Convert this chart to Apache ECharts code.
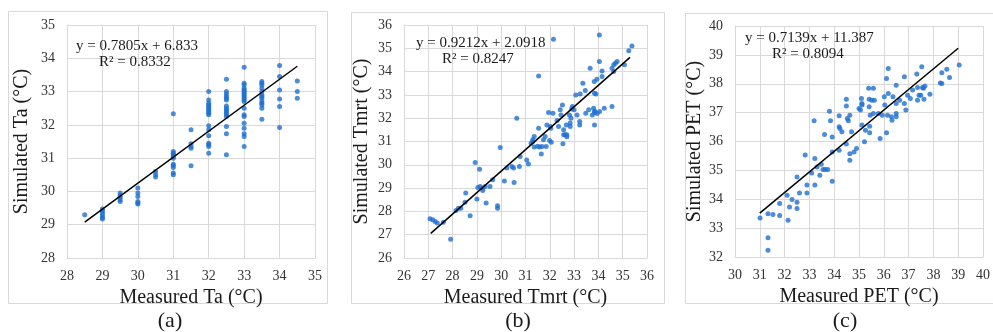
<!DOCTYPE html>
<html><head><meta charset="utf-8">
<script src="https://cdn.jsdelivr.net/npm/echarts@6/dist/echarts.min.js"></script>
<style>html,body{margin:0;padding:0;background:#fff;}#c{width:993px;height:332px;}</style>
</head><body><div id="c"></div>
<script>
// Panel (a): measured vs simulated Ta
const aX = [28.5,
 29,29,29,29,29,29,
 29.5,29.5,29.5,29.5,29.5,
 30,30,30,30,30,30,
 30.5,30.5,30.5,
 31,31,31,31,31,31,31,31,31,31,31,
 31.5,31.5,31.5,31.5,31.5,
 32,32,32,32,32,32,32,32,32,32,32,32,32,32,32,32,32,
 32.5,32.5,32.5,32.5,32.5,32.5,32.5,32.5,32.5,32.5,32.5,32.5,32.5,32.5,32.5,32.5,
 33,33,33,33,33,33,33,33,33,33,33,33,33,33,33,33,33,33,33,33,
 33.5,33.5,33.5,33.5,33.5,33.5,33.5,33.5,33.5,33.5,33.5,33.5,33.5,
 34,34,34,34,34,34,
 34.5,34.5,34.5];
const aY = [29.3,
 29.47,29.42,29.35,29.28,29.22,29.17,
 29.95,29.88,29.82,29.75,29.7,
 30.1,29.95,29.85,29.7,29.65,29.62,
 30.6,30.5,30.43,
 32.33,31.2,31.15,31.1,31.05,31.0,30.82,30.78,30.72,30.55,30.5,
 31.85,31.43,31.35,31.3,30.77,
 33.0,32.75,32.65,32.6,32.55,32.5,32.45,32.4,32.35,32.3,31.97,31.85,31.67,31.45,31.4,31.35,31.15,
 33.37,33.0,32.93,32.85,32.8,32.75,32.57,32.5,32.45,32.4,32.35,32.3,32.25,31.95,31.73,31.1,
 33.73,33.25,33.2,33.1,33.05,33.0,32.95,32.9,32.85,32.8,32.75,32.5,32.3,32.25,32.05,31.9,31.73,31.65,31.35,32.7,
 33.3,33.25,33.2,33.1,33.0,32.9,32.85,32.8,32.7,32.65,32.6,32.5,32.17,
 33.78,33.45,33.05,32.78,32.55,31.92,
 33.32,33.0,32.8];
const aFit = {slope: 0.7805, intercept: 6.833, from: 28.5, to: 34.5};

// Panel (b): measured vs simulated Tmrt
const bX = [27.07,27.18,27.28,27.37,27.62,27.92,28.14,28.24,28.34,28.51,28.54,28.72,28.93,29.0,29.11,29.04,29.13,29.24,29.34,29.24,29.38,29.54,29.65,29.85,29.85,29.96,30.13,30.23,30.44,30.51,30.53,30.64,30.75,30.78,31.05,31.12,31.23,31.3,31.36,31.36,31.54,31.54,31.58,31.68,31.65,31.74,31.81,31.85,31.88,31.95,31.99,32.02,32.04,32.06,32.15,32.13,32.36,32.43,32.46,32.52,32.57,32.63,32.57,32.54,32.68,32.7,32.81,32.84,32.84,32.87,32.93,33.0,33.07,33.12,33.23,33.23,33.25,33.36,33.46,33.48,33.6,33.66,33.75,33.8,33.84,33.83,33.84,33.9,33.84,33.94,34.04,34.04,34.05,34.15,34.15,34.24,34.56,34.56,34.63,34.7,34.77,34.63,35.07,35.25,35.38,31.3,31.5,32.7,33.85,33.95,32.3,32.9];
const bY = [27.68,27.64,27.57,27.5,27.53,26.81,28.04,28.14,28.14,28.39,28.79,27.81,30.1,28.53,29.81,29.03,29.07,29.0,29.07,28.9,28.36,29.07,29.36,28.24,28.14,30.74,29.31,29.86,29.93,29.86,29.24,32.0,29.93,30.36,30.21,30.03,30.93,31.07,31.21,30.76,33.81,31.57,30.76,30.79,30.46,31.07,31.21,30.79,31.71,32.24,31.04,31.64,31.57,30.97,35.39,32.21,31.64,32.36,32.14,32.57,31.29,31.29,31.5,30.9,31.71,31.29,32.14,31.64,31.79,32.0,32.5,32.36,33.0,32.14,31.71,31.86,33.04,33.5,33.19,32.21,32.36,34.14,32.14,32.43,32.24,33.57,33.07,33.04,31.71,33.67,35.57,34.43,32.29,34.03,33.79,32.43,32.5,34.14,34.29,34.36,34.43,34.0,34.29,34.9,35.1,31.0,30.8,31.2,32.3,32.2,31.9,32.4];
const bFit = {slope: 0.9212, intercept: 2.0918, from: 27.1, to: 35.3};

// Panel (c): measured vs simulated PET
const cX = [31.01,31.33,31.53,31.33,31.33,31.8,31.8,32.1,32.14,32.2,32.3,32.5,32.5,32.5,32.6,32.83,32.9,32.9,33.09,33.19,33.22,33.22,33.31,33.42,33.48,33.55,33.64,33.74,33.61,33.81,33.85,33.92,33.92,33.92,34.2,34.2,34.23,34.2,34.31,34.49,34.49,34.49,34.53,34.57,34.63,34.63,34.63,34.7,34.8,34.9,35.0,35.06,35.1,35.12,35.12,35.12,35.22,35.26,35.39,35.41,35.41,35.45,35.43,35.43,35.52,35.62,35.58,35.58,35.78,35.85,35.94,36.02,36.04,36.11,36.11,36.18,36.18,36.15,36.31,36.33,36.37,36.5,36.5,36.5,36.5,36.64,36.83,36.83,36.89,36.96,37.07,37.16,37.33,37.36,37.42,37.49,37.56,37.36,37.53,37.6,37.62,37.66,37.86,38.28,38.34,38.34,38.54,38.65,39.04];
const cY = [33.35,33.5,33.47,32.67,32.23,33.44,33.85,34.14,33.27,33.73,33.99,34.77,33.9,33.68,34.22,35.53,34.49,34.22,34.91,36.72,35.41,34.49,35.12,34.83,35.21,35.03,35.03,35.03,36.24,37.05,36.72,34.62,35.64,36.16,36.89,36.51,36.45,35.7,36.34,37.46,37.23,35.91,36.8,36.72,36.91,35.58,35.35,36.34,35.64,35.76,37.14,37.09,37.49,37.32,37.26,36.57,35.99,36.39,37.84,37.46,37.2,36.91,36.53,36.3,37.43,37.43,37.84,36.97,36.97,36.1,36.91,37.55,37.26,38.18,36.3,38.53,37.66,36.91,36.86,36.74,37.55,37.95,37.32,36.97,36.86,37.43,38.24,37.32,37.09,37.6,37.49,37.78,38.34,37.87,37.6,37.6,37.87,37.43,38.59,37.84,37.46,37.92,37.64,38.03,38.01,38.38,38.5,38.22,38.65];
const cFit = {slope: 0.7139, intercept: 11.387, from: 31, to: 39};

const eqA = ['y = 0.7805x + 6.833', 'R² = 0.8332'];
const eqB = ['y = 0.9212x + 2.0918', 'R² = 0.8247'];
const eqC = ['y = 0.7139x + 11.387', 'R² = 0.8094'];
const panelLabels = ['(a)', '(b)', '(c)'];
const xNames = ['Measured Ta (°C)', 'Measured Tmrt (°C)', 'Measured PET (°C)'];
const yNames = ['Simulated Ta (°C)', 'Simulated Tmrt (°C)', 'Simulated PET (°C)'];
const ranges = [[28, 35], [26, 36], [30, 40]];
const yRanges = [[28, 35], [26, 36], [32, 40]];

const pts = (xs, ys) => xs.map((x, i) => [x, ys[i]]);
const fitLine = f => [[f.from, f.slope * f.from + f.intercept], [f.to, f.slope * f.to + f.intercept]];

const FONT = 'Liberation Serif';
const grids = [
  {left: 67, top: 25, width: 248, height: 233},
  {left: 404, top: 25, width: 243, height: 233},
  {left: 735, top: 26, width: 254, height: 231}
];
const yGaps = [35, 32, 28];
const xGaps = [24, 25, 25];
const gridColor = '#d9d9d9';

const xAxes = grids.map((g, i) => ({
  gridIndex: i, type: 'value', min: ranges[i][0], max: ranges[i][1], interval: 1,
  name: xNames[i], nameLocation: 'middle', nameGap: xGaps[i],
  nameTextStyle: {fontFamily: FONT, fontSize: 20, color: '#1a1a1a'},
  axisLine: {show: true, lineStyle: {color: gridColor}}, axisTick: {show: false},
  axisLabel: {fontFamily: FONT, fontSize: 14, color: '#333', margin: 11},
  splitLine: {show: true, lineStyle: {color: gridColor, width: 1}}
}));
const yAxes = grids.map((g, i) => ({
  gridIndex: i, type: 'value', min: yRanges[i][0], max: yRanges[i][1], interval: 1,
  name: yNames[i], nameLocation: 'middle', nameGap: yGaps[i],
  nameTextStyle: {fontFamily: FONT, fontSize: 20, color: '#1a1a1a'},
  axisLine: {show: true, lineStyle: {color: gridColor}}, axisTick: {show: false},
  axisLabel: {fontFamily: FONT, fontSize: 14, color: '#333', margin: 12},
  splitLine: {show: true, lineStyle: {color: gridColor, width: 1}}
}));

const dotColor = '#1f6fcf';
const series = [];
[[aX, aY, aFit], [bX, bY, bFit], [cX, cY, cFit]].forEach((p, i) => {
  series.push({type: 'scatter', xAxisIndex: i, yAxisIndex: i, data: pts(p[0], p[1]),
    symbolSize: 5, itemStyle: {color: dotColor}, silent: true});
  series.push({type: 'line', xAxisIndex: i, yAxisIndex: i, data: fitLine(p[2]),
    symbol: 'none', lineStyle: {color: '#000', width: 1.5}, silent: true, z: 3});
});

const frames = [[8, 11, 319, 292], [351, 12, 313, 291], [685, 13, 320, 290]];
const eqs = [eqA, eqB, eqC];
const eqPos = [[[76, 46], [99, 62]], [[416, 43], [442, 59]], [[745, 38], [772, 54]]];
const labelPos = [170, 518, 845];
const graphic = [];
frames.forEach(f => graphic.push({type: 'rect', shape: {x: f[0] + 0.5, y: f[1] + 0.5, width: f[2], height: f[3]},
  style: {fill: null, stroke: '#d9d9d9', lineWidth: 1}, z: -1}));
eqs.forEach((e, i) => {
  e.forEach((t, j) => graphic.push({type: 'text', x: eqPos[i][j][0], y: eqPos[i][j][1],
    style: {text: t, font: '15px "Liberation Serif"', fill: '#1a1a1a', textVerticalAlign: 'middle', verticalAlign: 'middle'}, z: 10}));
});
panelLabels.forEach((t, i) => graphic.push({type: 'text', x: labelPos[i], y: 321,
  style: {text: t, font: '22px "Liberation Serif"', fill: '#1a1a1a', align: 'center', verticalAlign: 'middle', textAlign: 'center', textVerticalAlign: 'middle'}}));

const chart = echarts.init(document.getElementById('c'), null, {renderer: 'canvas'});
chart.setOption({
  animation: false, backgroundColor: '#fff',
  grid: grids, xAxis: xAxes, yAxis: yAxes, series: series, graphic: graphic
});
</script></body></html>
